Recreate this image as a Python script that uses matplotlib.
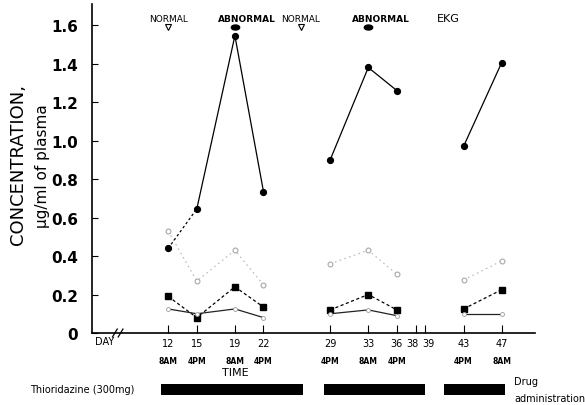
import matplotlib
matplotlib.use("Agg")
import matplotlib.pyplot as plt
from matplotlib.transforms import blended_transform_factory, Affine2D
from matplotlib.path import Path

# ---- data ----
days_a = [12, 15, 19, 22]
days_b = [29, 33, 36]
days_c = [43, 47]

# solid line, filled circles
circ_a = [0.44, 0.645, 1.545, 0.735]
circ_b = [0.90, 1.38, 1.26]
circ_c = [0.97, 1.405]

# faint dotted line, open circles
open_a = [0.53, 0.27, 0.43, 0.25]
open_b = [0.36, 0.43, 0.305]
open_c = [0.275, 0.375]

# dashed line, filled squares
sq_a = [0.19, 0.08, 0.24, 0.135]
sq_b = [0.12, 0.20, 0.12]
sq_c = [0.125, 0.225]

# thin solid line, small open circles
low_a = [0.125, 0.10, 0.125, 0.08]
low_b = [0.10, 0.12, 0.09]
low_c = [0.10, 0.10]

tick_days = [12, 15, 19, 22, 29, 33, 36, 38, 39, 43, 47]
tick_labels = ["12", "15", "19", "22", "29", "33", "36", "38", "39", "43", "47"]
time_days = [12, 15, 19, 22, 29, 33, 36, 43, 47]
time_labels = ["8AM", "4PM", "8AM", "4PM", "4PM", "8AM", "4PM", "4PM", "8AM"]
yticks = [0, 0.2, 0.4, 0.6, 0.8, 1.0, 1.2, 1.4, 1.6]
ytick_labels = ["0", "0.2", "0.4", "0.6", "0.8", "1.0", "1.2", "1.4", "1.6"]

ekg_x = [12, 19, 25.9, 33]
ekg_text = ["NORMAL", "ABNORMAL", "NORMAL", "ABNORMAL"]
ekg_abnormal = [False, True, False, True]

drug_periods = [(11.2, 26.1), (28.3, 39.0), (41.0, 47.3)]

# ---- figure ----
fig = plt.figure(figsize=(5.85, 4.06), dpi=100)
ax = fig.add_axes([92/585, 1-334/406, (535-92)/585, (334-5)/406])
ax.set_xlim(4.0, 50.5)
ax.set_ylim(0, 1.71)

for spine in ["top", "right"]:
    ax.spines[spine].set_visible(False)
ax.spines["left"].set_linewidth(1.2)
ax.spines["bottom"].set_linewidth(1.2)

# filled circle series
ax.plot(days_a[:2], circ_a[:2], color="black", lw=0.9, ls=(0, (2, 2)))
ax.plot(days_a[1:], circ_a[1:], color="black", lw=0.9)
ax.plot(days_a, circ_a, ls="none", marker="o", ms=4.2, color="black")
for d, v in [(days_b, circ_b), (days_c, circ_c)]:
    ax.plot(d, v, color="black", lw=0.9, marker="o", ms=4.2)

# faint dotted series
for d, v in [(days_a, open_a), (days_b, open_b), (days_c, open_c)]:
    ax.plot(d, v, color="#b8b8b8", lw=0.8, ls=(0, (1.5, 3)), marker="o", ms=3.5,
            mfc="white", mec="#a8a8a8", mew=0.8)

# dashed squares series
for d, v in [(days_a, sq_a), (days_b, sq_b), (days_c, sq_c)]:
    ax.plot(d, v, color="black", lw=0.9, ls=(0, (2.5, 2)), marker="s", ms=4)

# low thin solid series
for d, v in [(days_a, low_a), (days_b, low_b), (days_c, low_c)]:
    ax.plot(d, v, color="#222222", lw=0.9, marker="o", ms=2.8,
            mfc="white", mec="#999999", mew=0.6)

# y axis
ax.set_yticks(yticks)
ax.set_yticklabels(ytick_labels, fontsize=11, fontweight="bold")
ax.tick_params(axis="y", direction="in", length=4, width=0.8, pad=10)

# x axis (labels drawn as text to keep 38/39 apart)
ax.set_xticks(tick_days)
ax.set_xticklabels([])
ax.tick_params(axis="x", direction="in", length=6, width=0.8)

tr = blended_transform_factory(ax.transData, ax.transAxes)
for d, lab in zip(tick_days, tick_labels):
    dx = -0.35 if lab == "38" else (0.35 if lab == "39" else 0.0)
    ax.text(d + dx, -0.03, lab, transform=tr, ha="center", va="center", fontsize=7)
for d, lab in zip(time_days, time_labels):
    ax.text(d, -0.085, lab, transform=tr, ha="center", va="center", fontsize=5.5,
            fontweight="bold")
ax.text(19, -0.12, "TIME", transform=tr, ha="center", va="center", fontsize=8)
ax.text(5.3, -0.025, "DAY", transform=tr, ha="center", va="center", fontsize=7)
# axis break marks
for dx in (6.4, 7.0):
    ax.plot([dx - 0.25, dx + 0.25], [-0.012, 0.012], transform=tr, color="black",
            lw=0.9, clip_on=False)

# flattened ellipse marker for abnormal EKG
ellipse = Path.unit_circle().transformed(Affine2D().scale(1.5, 0.9))

# EKG annotations
for x, t, ab in zip(ekg_x, ekg_text, ekg_abnormal):
    off = 1.3 if ab else 0.0
    ax.text(x + off, 1.635, t, ha="center", va="center", fontsize=6.5,
            fontweight="bold" if ab else "normal")
    if ab:
        ax.plot([x], [1.59], marker=ellipse, ms=6, color="black", clip_on=False)
    else:
        ax.plot([x], [1.59], marker="v", ms=5, mfc="white", mec="black",
                mew=0.8, clip_on=False)
ax.text(41.4, 1.635, "EKG", ha="center", va="center", fontsize=8)

# y labels
fig.text(18/585, 1-165/406, "CONCENTRATION,", rotation=90, ha="center", va="center",
         fontsize=13)
fig.text(42/585, 1-166/406, "μg/ml of plasma", rotation=90, ha="center", va="center",
         fontsize=11)

# drug administration bars
axb = fig.add_axes([92/585, 1-396/406, (535-92)/585, 11/406])
axb.set_xlim(ax.get_xlim())
axb.set_ylim(0, 1)
axb.axis("off")
axb.broken_barh([(s, e - s) for s, e in drug_periods], (0, 1), facecolors="black")

fig.text(30/585, 1-390/406, "Thioridazine (300mg)", ha="left", va="center", fontsize=7)
fig.text(514/585, 1-382/406, "Drug", ha="left", va="center", fontsize=7)
fig.text(514/585, 1-399/406, "administration", ha="left", va="center", fontsize=7)

fig.savefig("out.png", dpi=100)
